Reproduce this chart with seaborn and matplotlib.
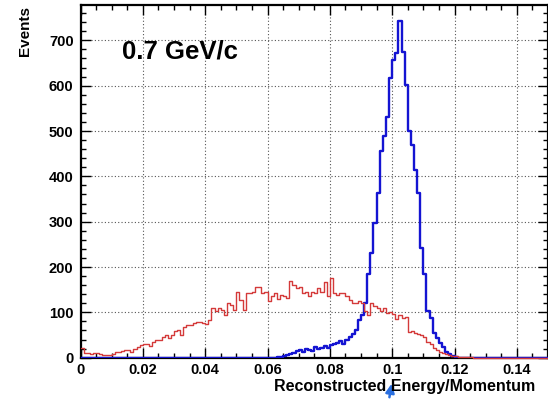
import numpy as np
import pandas as pd
import matplotlib
matplotlib.use("Agg")
import matplotlib.pyplot as plt
import seaborn as sns

# ---------------- data ----------------
bin_edges = [round(i * 0.001, 3) for i in range(151)]
bin_centers = [round((i + 0.5) * 0.001, 4) for i in range(150)]

red_counts = [
    21, 10, 10, 9, 11, 10, 8, 7, 6, 6,
    8, 12, 13, 15, 16, 17, 13, 20, 23, 27,
    31, 30, 26, 34, 40, 38, 45, 50, 44, 50,
    58, 62, 50, 68, 72, 72, 76, 79, 79, 76,
    75, 84, 110, 104, 110, 106, 94, 120, 116, 105,
    146, 128, 105, 142, 142, 146, 157, 157, 143, 146,
    124, 135, 142, 130, 138, 137, 131, 170, 160, 153,
    155, 142, 146, 135, 146, 142, 153, 146, 168, 136,
    175, 142, 138, 142, 142, 135, 128, 120, 120, 124,
    120, 102, 94, 120, 113, 110, 104, 109, 98, 100,
    96, 85, 94, 88, 90, 57, 58, 54, 52, 50,
    46, 35, 30, 22, 18, 13, 10, 8, 6, 4,
    3, 2, 2, 1, 1, 1, 0, 0, 0, 0,
    0, 0, 0, 0, 0, 0, 0, 0, 0, 0,
    0, 0, 0, 0, 0, 0, 0, 0, 0, 0,
]

blue_counts = [
    0, 0, 0, 0, 0, 0, 0, 0, 0, 0,
    0, 0, 0, 0, 0, 0, 0, 0, 0, 0,
    0, 0, 0, 0, 0, 0, 0, 0, 0, 0,
    0, 0, 0, 0, 0, 0, 0, 0, 0, 0,
    0, 0, 0, 0, 0, 0, 0, 0, 0, 0,
    0, 0, 0, 0, 0, 0, 0, 0, 0, 0,
    0, 0, 0, 1, 2, 3, 6, 8, 10, 14,
    17, 12, 19, 18, 15, 24, 20, 22, 25, 22,
    29, 30, 33, 37, 30, 40, 46, 52, 60, 83,
    94, 120, 185, 230, 297, 364, 457, 488, 531, 617,
    656, 673, 742, 675, 602, 500, 470, 413, 363, 241,
    185, 102, 88, 54, 43, 33, 24, 13, 9, 4,
    1, 0, 0, 0, 0, 0, 0, 0, 0, 0,
    0, 0, 0, 0, 0, 0, 0, 0, 0, 0,
    0, 0, 0, 0, 0, 0, 0, 0, 0, 0,
]

x_ticks = [0, 0.02, 0.04, 0.06, 0.08, 0.1, 0.12, 0.14]
x_tick_labels = ["0", "0.02", "0.04", "0.06", "0.08", "0.1", "0.12", "0.14"]
y_ticks = [0, 100, 200, 300, 400, 500, 600, 700]
y_tick_labels = ["0", "100", "200", "300", "400", "500", "600", "700"]

annotation_text = "0.7 GeV/c"
x_title = "Reconstructed Energy/Momentum"
y_title = "Events"

df_red = pd.DataFrame({"ratio": bin_centers, "events": np.asarray(red_counts, dtype=float)})
df_blue = pd.DataFrame({"ratio": bin_centers, "events": np.asarray(blue_counts, dtype=float)})

# ---------------- style ----------------
sns.set_style("ticks")
plt.rcParams["font.family"] = ["Liberation Sans", "DejaVu Sans"]
plt.rcParams["font.weight"] = "bold"
plt.rcParams["text.color"] = "black"
plt.rcParams["xtick.color"] = "black"
plt.rcParams["ytick.color"] = "black"
plt.rcParams["xtick.labelcolor"] = "black"
plt.rcParams["ytick.labelcolor"] = "black"

RED = "#d43a3a"
BLUE = "#1414d2"

fig = plt.figure(figsize=(5.48, 4.0), dpi=100)
W, H = 548.0, 400.0
left, right, bottom, top = 80.5, 548.0, 357.7, 5.0
ax = fig.add_axes([left / W, 1 - bottom / H, (right - left) / W, (bottom - top) / H])

sns.histplot(data=df_red, x="ratio", weights="events", bins=bin_edges, element="step",
             fill=False, color=RED, linewidth=1.0, ax=ax)
sns.histplot(data=df_blue, x="ratio", weights="events", bins=bin_edges, element="step",
             fill=False, color=BLUE, linewidth=1.7, ax=ax)

lines = ax.lines
if len(lines) >= 2:
    lines[0].set_clip_on(False)
    lines[0].set_zorder(3)
    lines[1].set_zorder(2.6)

ax.set_xlim(0, 0.15)
ax.set_ylim(0, 778)
ax.set_xlabel("")
ax.set_ylabel("")

ax.set_xticks(x_ticks)
ax.set_xticklabels(x_tick_labels, fontsize=10.5, fontweight="bold", color="black")
ax.set_yticks(y_ticks)
ax.set_yticklabels(y_tick_labels, fontsize=10.5, fontweight="bold", color="black")
ax.xaxis.set_minor_locator(matplotlib.ticker.MultipleLocator(0.005))
ax.yaxis.set_minor_locator(matplotlib.ticker.MultipleLocator(20))

ax.tick_params(which="both", direction="in", top=True, right=True, width=1.0, color="black")
ax.tick_params(which="major", length=7)
ax.tick_params(which="minor", length=3.5)
ax.tick_params(axis="x", which="major", pad=4)
ax.tick_params(axis="y", which="major", pad=5)

for s in ax.spines.values():
    s.set_linewidth(1.6)
    s.set_color("black")
    s.set_visible(True)

ax.grid(True, which="major", color="#555555", linestyle=(0, (1, 2)), linewidth=0.8)
ax.set_axisbelow(True)

ax.text(0.0133, 675, annotation_text, fontsize=18.5, fontweight="bold", va="center", ha="left",
        color="black")

fig.text(535 / W, 1 - 387 / H, x_title, ha="right", va="center", fontsize=11.5, fontweight="bold",
         color="black")
fig.text(25 / W, 1 - 6 / H, y_title, ha="center", va="top", rotation=90, fontsize=11, fontweight="bold",
         color="black")

# small blue cursor arrow seen in the reference
ax.annotate("", xy=(392, 19), xycoords="figure pixels", xytext=(389, 0), textcoords="figure pixels",
            arrowprops=dict(arrowstyle="-|>", color="#2a6fe0", lw=1.8, mutation_scale=13),
            annotation_clip=False)

fig.savefig("out.png", dpi=100)
